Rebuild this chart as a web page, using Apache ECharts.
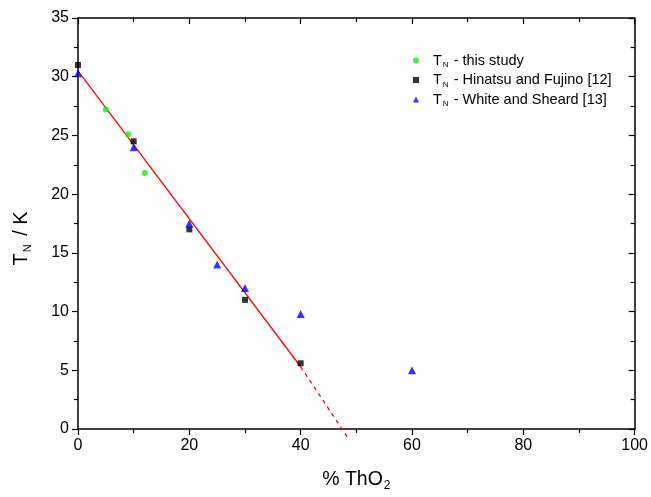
<!DOCTYPE html>
<html>
<head>
<meta charset="utf-8">
<script src="https://cdn.jsdelivr.net/npm/echarts@6/dist/echarts.min.js"></script>
<style>html,body{margin:0;padding:0;background:#fff}#c{width:651px;height:497px}</style>
</head>
<body>
<div id="c"></div>
<script>
var thisStudyX = [5, 9, 12];
var thisStudyY = [27.2, 25.1, 21.8];
var hinatsuX = [0, 10, 20, 30, 40];
var hinatsuY = [31.0, 24.5, 17.0, 11.0, 5.6];
var whiteX = [0, 10, 20, 25, 30, 40, 60];
var whiteY = [30.3, 24.0, 17.5, 14.0, 12.0, 9.8, 5.0];
var fitSolidX = [0, 40];
var fitSolidY = [30.5, 5.3];
var fitDashX = [40, 48.7];
var fitDashY = [5.3, -0.9];
var xTicks = [0, 20, 40, 60, 80, 100];
var yTicks = [0, 5, 10, 15, 20, 25, 30, 35];

function zip(a, b) { return a.map(function (v, i) { return [v, b[i]]; }); }

var font = 'Liberation Sans, Arial, sans-serif';
var chart = echarts.init(document.getElementById('c'));
var legendLabels = {
  'this study': ' - this study',
  'Hinatsu': ' - Hinatsu and Fujino [12]',
  'White': ' - White and Sheard [13]'
};
var axisLine = {show: true, onZero: false, lineStyle: {color: '#000', width: 1.5}};
chart.setOption({
  animation: false,
  grid: {left: 78, right: 14, top: 18, bottom: 67},
  legend: {
    left: 408, top: 47, orient: 'vertical', itemGap: 2.5,
    itemWidth: 6, itemHeight: 6,
    data: [
      {name: 'this study', icon: 'circle'},
      {name: 'Hinatsu', icon: 'rect'},
      {name: 'White', icon: 'triangle'}
    ],
    formatter: function (n) { return '{g|}{t|T}{s|N}{t|' + legendLabels[n] + '}'; },
    textStyle: {
      fontFamily: font, color: '#000',
      rich: {
        g: {width: 9},
        t: {fontSize: 14.5, fontFamily: font, color: '#000', lineHeight: 17},
        s: {fontSize: 8, fontFamily: font, color: '#000', padding: [9, 1, 0, 1], lineHeight: 17}
      }
    }
  },
  xAxis: [{
    type: 'value', min: 0, max: 100, interval: 20,
    name: '{t|% ThO}{s|2}', nameLocation: 'middle', nameGap: 38,
    nameTextStyle: {rich: {
      t: {fontSize: 19.5, fontFamily: font, color: '#000'},
      s: {fontSize: 12, fontFamily: font, color: '#000', padding: [13, 0, 0, 1]}
    }},
    axisLine: axisLine,
    axisTick: {show: true, inside: false, length: 6, lineStyle: {color: '#000', width: 1.2}},
    minorTick: {show: true, splitNumber: 2, length: 4, lineStyle: {color: '#000', width: 1.2}},
    axisLabel: {fontSize: 16, fontFamily: font, color: '#000', margin: 9,
      formatter: function (v) { return xTicks.indexOf(v) >= 0 ? String(v) : ''; }},
    splitLine: {show: false}
  }, {
    type: 'value', min: 0, max: 100, interval: 20, position: 'top', show: true,
    axisLine: axisLine,
    axisTick: {show: true, inside: true, length: 6, lineStyle: {color: '#000', width: 1.2}},
    minorTick: {show: true, splitNumber: 2, length: 4, lineStyle: {color: '#000', width: 1.2}},
    axisLabel: {show: false}, splitLine: {show: false}
  }],
  yAxis: [{
    type: 'value', min: 0, max: 35, interval: 5,
    name: '{t|T}{s|N}{t| / K}', nameLocation: 'middle', nameGap: 45, nameRotate: 90,
    nameTextStyle: {padding: [0, 0, 0, -30], rich: {
      t: {fontSize: 20, fontFamily: font, color: '#000'},
      s: {fontSize: 11, fontFamily: font, color: '#000', padding: [13, 3, 0, 1]}
    }},
    axisLine: axisLine,
    axisTick: {show: true, inside: false, length: 6, lineStyle: {color: '#000', width: 1.2}},
    minorTick: {show: true, splitNumber: 2, length: 4, lineStyle: {color: '#000', width: 1.2}},
    axisLabel: {fontSize: 16, fontFamily: font, color: '#000', margin: 9,
      formatter: function (v) { return yTicks.indexOf(v) >= 0 ? String(v) : ''; }},
    splitLine: {show: false}
  }, {
    type: 'value', min: 0, max: 35, interval: 5, position: 'right', show: true,
    axisLine: axisLine,
    axisTick: {show: true, inside: true, length: 6, lineStyle: {color: '#000', width: 1.2}},
    minorTick: {show: true, splitNumber: 2, length: 4, lineStyle: {color: '#000', width: 1.2}},
    axisLabel: {show: false}, splitLine: {show: false}
  }],
  series: [
    {type: 'line', data: zip(fitSolidX, fitSolidY), symbol: 'none', lineStyle: {color: '#ff0000', width: 1.3}, z: 1, silent: true},
    {type: 'line', data: zip(fitDashX, fitDashY), symbol: 'none', clip: false, lineStyle: {color: '#ff0000', width: 1.3, type: [4, 4]}, z: 1, silent: true},
    {name: 'this study', type: 'scatter', data: zip(thisStudyX, thisStudyY), symbol: 'circle', symbolSize: 6, itemStyle: {color: '#11ee11'}, z: 3},
    {name: 'Hinatsu', type: 'scatter', data: zip(hinatsuX, hinatsuY), symbol: 'rect', symbolSize: 6, itemStyle: {color: '#000'}, z: 3},
    {name: 'White', type: 'scatter', data: zip(whiteX, whiteY), symbol: 'triangle', symbolSize: 8, itemStyle: {color: '#0000ff'}, z: 3, clip: false},
    {type: 'scatter', xAxisIndex: 1, yAxisIndex: 1, data: [], silent: true}
  ]
});
</script>
</body>
</html>
